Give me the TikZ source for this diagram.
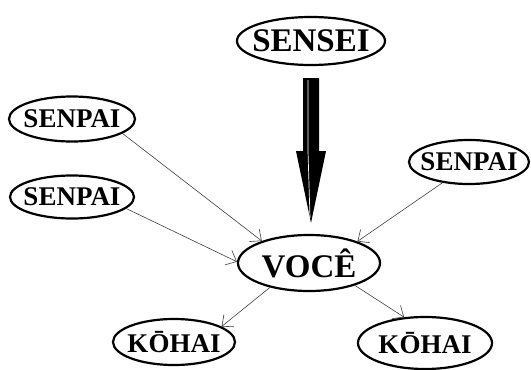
\documentclass[tikz,border=0pt]{standalone}
\usepackage{fontspec}
\setmainfont{Liberation Serif}
\usetikzlibrary{shapes.geometric,arrows.meta}
\begin{document}
\begin{tikzpicture}[x=1pt,y=-1pt,
    every node/.style = {shape=ellipse, draw, line width=2.2pt,
      inner xsep=-14pt, inner ysep=-8pt,
      font=\bfseries\fontsize{27}{29}\selectfont},
    grande/.style = {font=\bfseries\fontsize{33}{35}\selectfont},
    seta/.style = {draw=black!75, line width=0.6pt,
      -{Straight Barb[length=9pt,width=16pt]}}]
  \useasboundingbox (0,0) rectangle (531,370);
  \node[grande, minimum width=148pt, minimum height=48pt] (sensei) at (311,41) {SENSEI};
  \node[grande, minimum width=142pt, minimum height=56pt] (voce) at (309,263) {VOCÊ};
  \node[minimum width=126pt, minimum height=45pt] (senpai1) at (72,119) {SENPAI};
  \node[minimum width=124pt, minimum height=43pt] (senpai2) at (72,197) {SENPAI};
  \node[minimum width=120pt, minimum height=44pt] (senpai3) at (469,162) {SENPAI};
  \node[minimum width=122pt, minimum height=46pt] (kohai1) at (174,342) {KŌHAI};
  \node[minimum width=134pt, minimum height=52pt] (kohai2) at (425,343) {KŌHAI};
  % seta grossa
  \fill ([xshift=-8pt,yshift=-12pt]sensei.south) -- ([xshift=8pt,yshift=-12pt]sensei.south)
    -- ([xshift=8pt,yshift=-85pt]sensei.south) -- ([xshift=15pt,yshift=-85pt]sensei.south)
    -- ([xshift=2pt,yshift=11pt]voce.north) -- ([xshift=-15pt,yshift=-85pt]sensei.south)
    -- ([xshift=-8pt,yshift=-85pt]sensei.south) -- cycle;
  \draw[white, line width=0.7pt] ([xshift=-3pt,yshift=-14pt]sensei.south)
    -- ([xshift=-3pt,yshift=-85pt]sensei.south) -- ([xshift=1pt,yshift=16pt]voce.north);
  % setas finas
  \draw[seta] (senpai1.-16) -- (voce.155);
  \draw[seta] (senpai2.-12) -- (voce.179);
  \draw[seta] (senpai3.218) -- (voce.24);
  \draw[seta] (voce.212) -- (kohai1.18);
  \draw[seta] (voce.334) -- (kohai2.129);
\end{tikzpicture}
\end{document}
